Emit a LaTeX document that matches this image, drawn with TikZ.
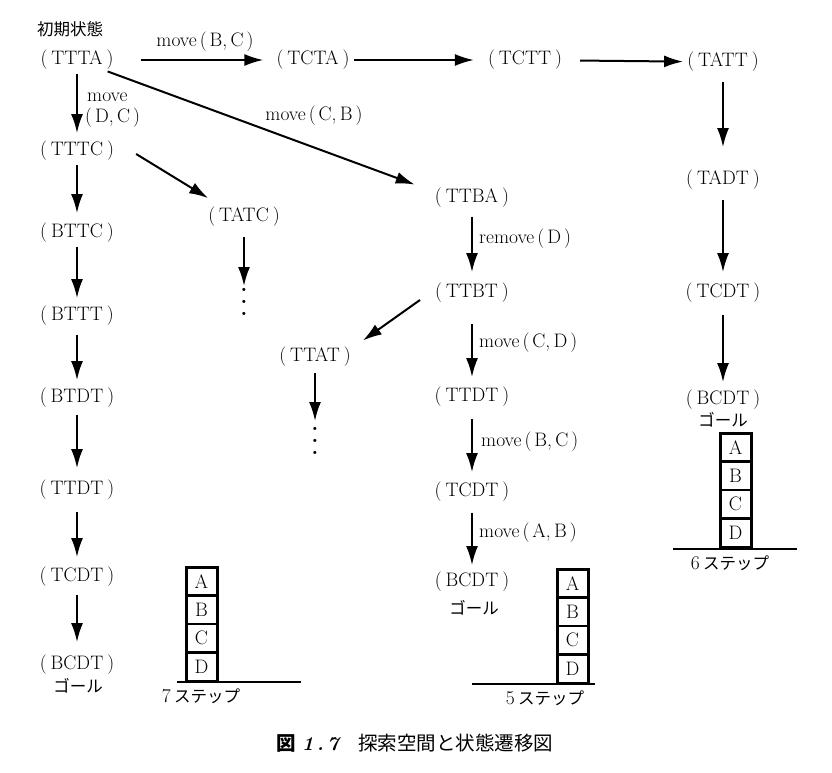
\documentclass[tikz,border=0pt]{standalone}
\usepackage{fontspec}
\usetikzlibrary{arrows.meta}
\newfontfamily\jp{Noto Sans CJK JP}
\newcommand\stt[1]{(\kern4pt#1\kern4pt)}
\newcommand\pr[1]{\kern3pt(\kern3pt#1\kern3pt)}
\tikzset{
  blocks/.pic={
    \draw[line width=3pt] (0,0) rectangle (31,114);
    \foreach \k in {1,2,3} {\draw[line width=2.4pt] (0,28.5*\k) -- (31,28.5*\k);}
    \node (-a) at (15.5,14.25) {A};
    \node (-b) at (15.5,42.75) {B};
    \node (-c) at (15.5,71.25) {C};
    \node (-d) at (15.5,99.75) {D};
  }
}
\begin{document}
\begin{tikzpicture}[x=1pt,y=-1pt,
  every node/.style={font=\fontsize{19.5}{22}\selectfont, inner sep=0pt},
  arr/.style={-{Latex[length=19pt,width=12pt]}, line width=2pt},
  lab/.style={anchor=west},
  jl/.style={font=\fontsize{16.5}{19}\selectfont\jp},
  dotsty/.style={rotate=-90, font=\fontsize{22}{22}\selectfont\bfseries},
  ground/.style={line width=1.5pt},
]
\useasboundingbox (0,0) rectangle (832,773);
% top row
\node[jl] (init) at (70,29) {初期状態};
\node (ttta) at (77,60) {\stt{TTTA}};
\node (tcta) at (313,60) {\stt{TCTA}};
\node (tctt) at (525,60) {\stt{TCTT}};
\node (tatt) at (723,62) {\stt{TATT}};
% right column
\node (tadt) at (723,180) {\stt{TADT}};
\node (tcdtR) at (723,293) {\stt{TCDT}};
\node (bcdtR) at (723,400) {\stt{BCDT}};
\node[jl] (goalR) at (723,420) {ゴール};
% left column
\node (tttc) at (77,151) {\stt{TTTC}};
\node (bttc) at (77,233) {\stt{BTTC}};
\node (bttt) at (77,316) {\stt{BTTT}};
\node (btdt) at (77,398) {\stt{BTDT}};
\node (ttdtL) at (77,490) {\stt{TTDT}};
\node (tcdtL) at (77,577) {\stt{TCDT}};
\node (bcdtL) at (77,665) {\stt{BCDT}};
\node[jl] (goalL) at (78,686) {ゴール};
% second column
\node (tatc) at (244,217) {\stt{TATC}};
\node[dotsty] (dots1) at (244,302) {.\kern5pt.\kern5pt.};
% middle column
\node (ttba) at (472,198) {\stt{TTBA}};
\node (ttbt) at (472,293) {\stt{TTBT}};
\node (ttat) at (315,357) {\stt{TTAT}};
\node[dotsty] (dots2) at (315,441) {.\kern5pt.\kern5pt.};
\node (ttdtM) at (472,397) {\stt{TTDT}};
\node (tcdtM) at (472,492) {\stt{TCDT}};
\node (bcdtM) at (472,582) {\stt{BCDT}};
\node[jl] (goalM) at (474,608) {ゴール};
% edge labels
\node (lbc) at (205,42) {move\pr{B,\,C}};
\node[lab] (ldc1) at (87,97) {move};
\node[lab] (ldc2) at (85,118) {(\kern3pt D,\,C\kern3pt)};
\node (lcb) at (314,116) {move\pr{C,\,B}};
\node[lab] (lrd) at (479,239) {remove\pr{D}};
\node[lab] (lcd) at (479,343) {move\pr{C,\,D}};
\node[lab] (lbc2) at (481,442) {move\pr{B,\,C}};
\node[lab] (lab2) at (479,533) {move\pr{A,\,B}};
% arrows top row
\draw[arr, shorten <=27pt, shorten >=13pt] (ttta) -- (tcta);
\draw[arr, shorten <=4pt, shorten >=14pt] (tcta) -- (tctt);
\draw[arr, shorten <=18pt, shorten >=4pt] (tctt) -- (tatt);
% right column arrows
\draw[arr, shorten <=10pt, shorten >=23pt] (tatt) -- (tadt);
\draw[arr, shorten <=10pt, shorten >=11pt] (tadt) -- (tcdtR);
\draw[arr, shorten <=12pt, shorten >=8pt] (tcdtR) -- (bcdtR);
% left column arrows
\draw[arr, shorten <=4pt, shorten >=8pt] (ttta) -- (tttc);
\draw[arr, shorten <=4pt, shorten >=10pt] (tttc) -- (bttc);
\draw[arr, shorten <=4pt, shorten >=8pt] (bttc) -- (bttt);
\draw[arr, shorten <=9pt, shorten >=8pt] (bttt) -- (btdt);
\draw[arr, shorten <=7pt, shorten >=12pt] (btdt) -- (ttdtL);
\draw[arr, shorten <=12pt, shorten >=10pt] (ttdtL) -- (tcdtL);
\draw[arr, shorten <=8pt, shorten >=13pt] (tcdtL) -- (bcdtL);
% diagonals
\draw[arr] ([xshift=-6pt,yshift=-1.5pt]ttta.south east) -- ([xshift=-20pt,yshift=3.5pt]ttba.north west);
\draw[arr] ([xshift=22pt,yshift=-3pt]tttc.east) -- ([yshift=9pt]tatc.north west);
\draw[arr] ([xshift=-15pt,yshift=-7pt]ttbt.west) -- ([xshift=12pt,yshift=6.5pt]ttat.north east);
% second column arrows
\draw[arr, shorten <=10pt] (tatc.south) -- ([yshift=16pt]dots1.center);
\draw[arr, shorten <=6pt] (ttat.south) -- ([yshift=20pt]dots2.center);
% middle column arrows
\draw[arr, shorten <=9pt, shorten >=11pt] (ttba) -- (ttbt);
\draw[arr, shorten <=21pt, shorten >=10pt] (ttbt) -- (ttdtM);
\draw[arr, shorten <=12pt, shorten >=10pt] (ttdtM) -- (tcdtM);
\draw[arr, shorten <=11pt, shorten >=7pt] (tcdtM) -- (bcdtM);
% stacks
\pic (sL) at (186,567) {blocks};
\draw[ground] (177,682) -- (301,682);
\node (stepL) at (201,696) {7\,{\jp\fontsize{16.5}{19}\selectfont ステップ}};
\pic (sM) at (557,569) {blocks};
\draw[ground] (472,684) -- (595,684);
\node (stepM) at (545,698) {5\,{\jp\fontsize{16.5}{19}\selectfont ステップ}};
\pic (sR) at (720,433) {blocks};
\draw[ground] (673,549) -- (797,549);
\node (stepR) at (730,563) {6\,{\jp\fontsize{16.5}{19}\selectfont ステップ}};
% caption
\node (cap) at (415,743) {{\jp\bfseries\fontsize{19.5}{22}\selectfont 図}\ {\bfseries\itshape 1\,.\,7}\quad{\jp\fontsize{19.5}{22}\selectfont 探索空間と状態遷移図}};
\end{tikzpicture}
\end{document}
